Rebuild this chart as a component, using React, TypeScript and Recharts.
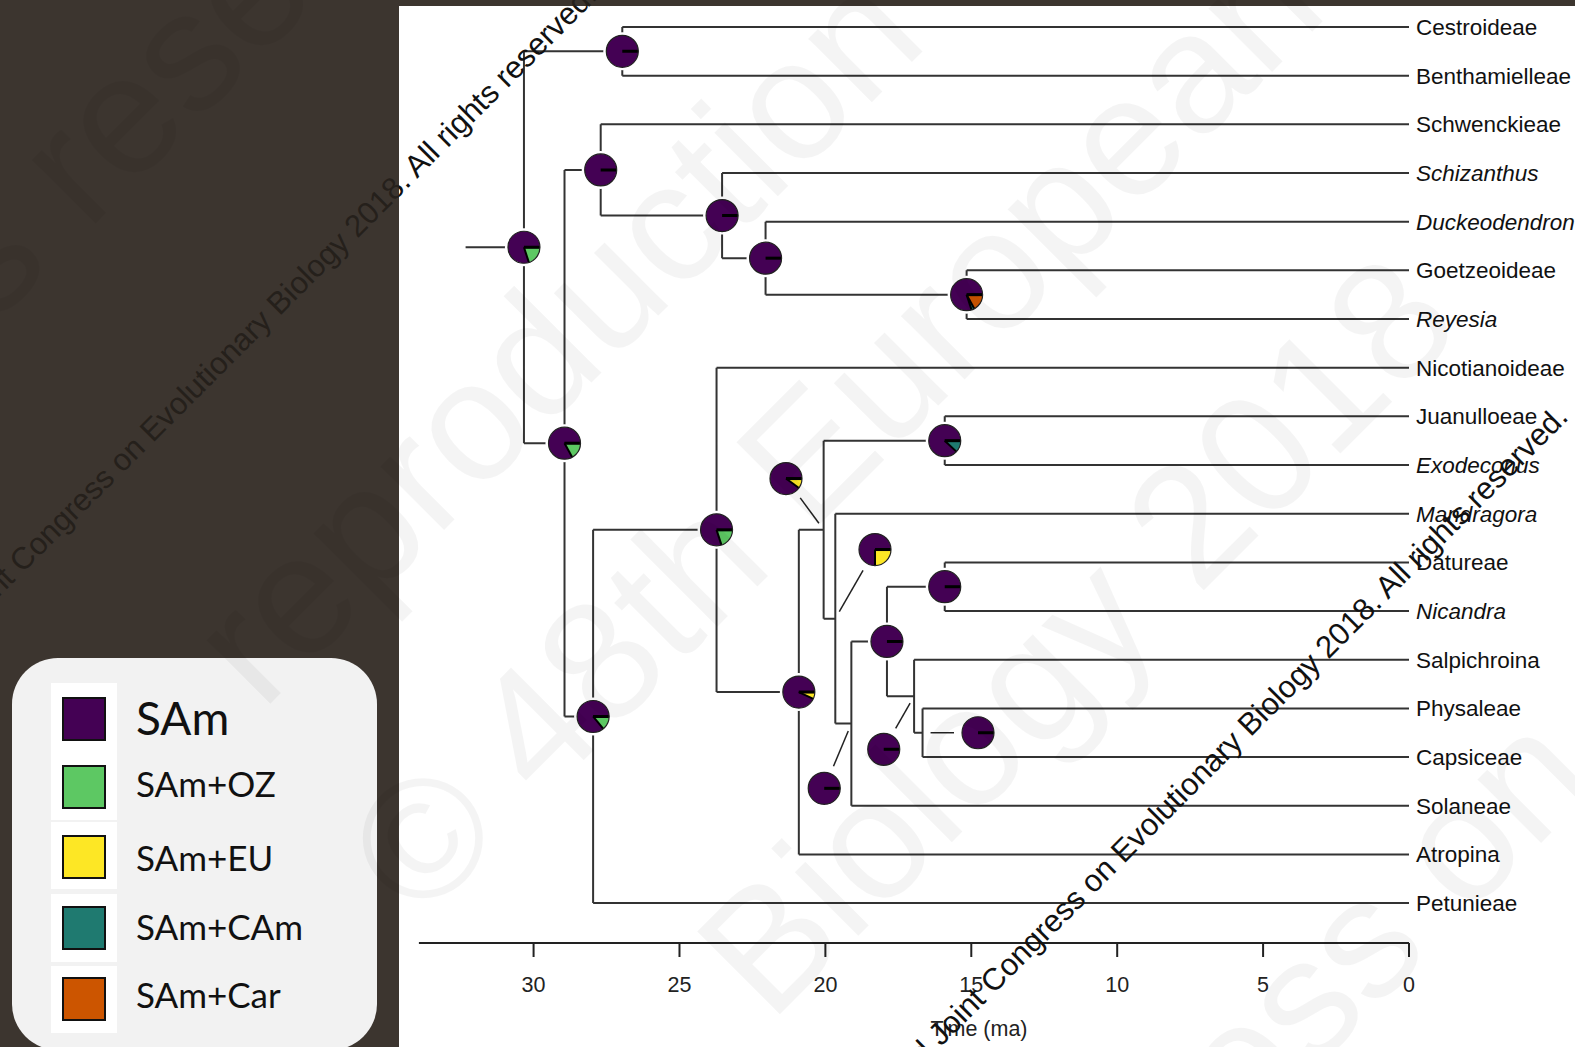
import React from 'react'
import { ComposedChart, Line, Scatter, XAxis, YAxis, ReferenceLine } from 'recharts'

// tips, top to bottom
const TIPS = [
  'Cestroideae', 'Benthamielleae', 'Schwenckieae', 'Schizanthus', 'Duckeodendron',
  'Goetzeoideae', 'Reyesia', 'Nicotianoideae', 'Juanulloeae', 'Exodeconus',
  'Mandragora', 'Datureae', 'Nicandra', 'Salpichroina', 'Physaleae',
  'Capsiceae', 'Solaneae', 'Atropina', 'Petunieae',
]
const ITALIC_TIPS = ['Schizanthus', 'Duckeodendron', 'Reyesia', 'Exodeconus', 'Mandragora', 'Nicandra']

// internal nodes (age in ma)
const NODES = ['root', 'n1', 'n2', 'n3', 'n4', 'n5', 'n6', 'n7', 'n8', 'n9', 'n10', 'n11', 'n12', 'n13', 'n14', 'n15', 'n16', 'n17']
const NODE_AGE = [30.33, 26.96, 28.94, 27.7, 23.54, 22.05, 15.16, 27.96, 23.73, 20.91, 20.06, 15.91, 19.66, 19.11, 17.89, 15.91, 16.96, 16.67]
const NODE_KIDS = [
  ['n1', 'n2'],
  ['Cestroideae', 'Benthamielleae'],
  ['n3', 'n7'],
  ['Schwenckieae', 'n4'],
  ['Schizanthus', 'n5'],
  ['Duckeodendron', 'n6'],
  ['Goetzeoideae', 'Reyesia'],
  ['n8', 'Petunieae'],
  ['Nicotianoideae', 'n9'],
  ['n10', 'Atropina'],
  ['n11', 'n12'],
  ['Juanulloeae', 'Exodeconus'],
  ['Mandragora', 'n13'],
  ['n14', 'Solaneae'],
  ['n15', 'n16'],
  ['Datureae', 'Nicandra'],
  ['Salpichroina', 'n17'],
  ['Physaleae', 'Capsiceae'],
]
const ROOT_EDGE_START = 32.33

// displaced pies (offset in ma / rows), drawn with a leader line
const PIE_SHIFT_AGE = [0, 0, 0, 0, 0, 0, 0, 0, 0, 0, 1.29, 0, -1.36, 0.93, 0, 0, 1.04, -1.9]
const PIE_SHIFT_ROW = [0, 0, 0, 0, 0, 0, 0, 0, 0, 0, -1.05, 0, -1.42, 1.33, 0, 0, 1.09, 0]

// ancestral state probabilities: SAm, SAm+OZ, SAm+EU, SAm+CAm, SAm+Car
const STATES = ['SAm', 'SAm+OZ', 'SAm+EU', 'SAm+CAm', 'SAm+Car']
const STATE_COLORS = ['#440154', '#5DC863', '#FDE725', '#1F7A70', '#CC5500']
const NODE_PROBS = [
  [0.8, 0.2, 0, 0, 0],
  [1, 0, 0, 0, 0],
  [0.83, 0.17, 0, 0, 0],
  [1, 0, 0, 0, 0],
  [1, 0, 0, 0, 0],
  [1, 0, 0, 0, 0],
  [0.8, 0, 0, 0.03, 0.17],
  [0.86, 0.14, 0, 0, 0],
  [0.8, 0.2, 0, 0, 0],
  [0.93, 0, 0.07, 0, 0],
  [0.9, 0, 0.1, 0, 0],
  [0.88, 0, 0, 0.12, 0],
  [0.75, 0, 0.25, 0, 0],
  [1, 0, 0, 0, 0],
  [1, 0, 0, 0, 0],
  [1, 0, 0, 0, 0],
  [1, 0, 0, 0, 0],
  [1, 0, 0, 0, 0],
]

const AGE_TICKS = [0, 5, 10, 15, 20, 25, 30]

const ARIAL = '"Liberation Sans", Arial, sans-serif'
const CALIBRI = 'Lato, "Open Sans", sans-serif'

const rowOf = (name: string): number => {
  const i = NODES.indexOf(name)
  if (i < 0) return TIPS.indexOf(name)
  const rows = NODE_KIDS[i].map(rowOf)
  return (rows[0] + rows[rows.length - 1]) / 2
}
const ageOf = (name: string) => {
  const i = NODES.indexOf(name)
  return i < 0 ? 0 : NODE_AGE[i]
}

// tree edges as one broken polyline
const edges: { x: number; y: number | null }[] = []
const rootRow = rowOf('root')
edges.push({ x: ROOT_EDGE_START, y: rootRow }, { x: NODE_AGE[0], y: rootRow }, { x: NODE_AGE[0], y: null })
NODES.forEach((n, i) => {
  const age = NODE_AGE[i]
  const rows = NODE_KIDS[i].map(rowOf)
  edges.push({ x: age, y: Math.min(...rows) }, { x: age, y: Math.max(...rows) }, { x: age, y: null })
  NODE_KIDS[i].forEach((k) => {
    const r = rowOf(k)
    edges.push({ x: age, y: r }, { x: ageOf(k), y: r }, { x: ageOf(k), y: null })
  })
})

const pies = NODES.map((n, i) => ({
  x: NODE_AGE[i] + PIE_SHIFT_AGE[i],
  y: rowOf(n) + PIE_SHIFT_ROW[i],
  probs: NODE_PROBS[i],
}))

const leaders = NODES.map((n, i) => ({ i, n })).filter(({ i }) => PIE_SHIFT_AGE[i] !== 0 || PIE_SHIFT_ROW[i] !== 0)

const PieGlyph = (props: any) => {
  const { cx, cy, payload } = props
  if (cx == null || cy == null) return null
  const r = 16
  const probs: number[] = payload.probs
  const pt = (a: number) => [cx + r * Math.cos(a), cy - r * Math.sin(a)]
  let a0 = 0
  const slices: React.ReactNode[] = []
  const borders: number[] = [0]
  probs.forEach((p, k) => {
    if (p <= 0) return
    if (p >= 1) {
      slices.push(<circle key={k} cx={cx} cy={cy} r={r} fill={STATE_COLORS[k]} />)
      return
    }
    const a1 = a0 + p * Math.PI * 2
    const [x0, y0] = pt(a0)
    const [x1, y1] = pt(a1)
    const large = p > 0.5 ? 1 : 0
    slices.push(
      <path key={k} d={`M${cx},${cy} L${x0},${y0} A${r},${r} 0 ${large} 0 ${x1},${y1} Z`} fill={STATE_COLORS[k]} />
    )
    a0 = a1
    borders.push(a1)
  })
  return (
    <g>
      <circle cx={cx} cy={cy} r={r + 3} fill="#fff" />
      {slices}
      {borders.map((a, k) => {
        const [x, y] = pt(a)
        return <line key={'b' + k} x1={cx} y1={cy} x2={x} y2={y} stroke="#000" strokeWidth={k === 0 ? 3 : 2} />
      })}
      <circle cx={cx} cy={cy} r={r} fill="none" stroke="#222" strokeWidth={1.2} />
    </g>
  )
}

const LeaderShape = (props: any) => {
  const { x1, y1, x2, y2 } = props
  const dx = x2 - x1
  const dy = y2 - y1
  const len = Math.hypot(dx, dy) || 1
  const s = 24 / len
  const e = (len - 8) / len
  return <line x1={x1 + dx * s} y1={y1 + dy * s} x2={x1 + dx * e} y2={y1 + dy * e} stroke="#222" strokeWidth={1.5} />
}

const TipTick = (props: any) => {
  const { x, y, payload } = props
  const name = TIPS[payload.value]
  if (!name) return null
  return (
    <text x={x} y={y} dy="0.355em" textAnchor="start" fontSize={22.5} fontFamily={ARIAL} fill="#111"
      fontStyle={ITALIC_TIPS.includes(name) ? 'italic' : 'normal'}>
      {name}
    </text>
  )
}

const LEGEND_PATCHES = [[683, 137], [822, 67], [894, 68], [966, 67]]
const LEGEND_SWATCH_Y = [698, 766, 836, 907, 978]
const LEGEND_BASELINE = [735, 797, 871, 940, 1008]

const STAMP = '© 2nd Joint Congress on Evolutionary Biology 2018. All rights reserved.'

export default function App() {
  return (
    <div style={{ position: 'absolute', left: 0, top: 0, width: 1575, height: 1047, background: '#3c352f', overflow: 'hidden' }}>
      <div style={{ position: 'absolute', left: 399, top: 6, right: 0, bottom: 0, background: '#fff' }} />
      <div style={{ position: 'absolute', left: 0, top: 0 }}>
        <ComposedChart width={1575} height={1047} margin={{ top: 7.5, right: 0, bottom: 4, left: 418.9 }}>
          <XAxis
            dataKey="x"
            type="number"
            domain={[0, 33.93]}
            allowDataOverflow
            reversed
            ticks={AGE_TICKS}
            height={100}
            tickSize={14}
            tickMargin={20}
            stroke="#222"
            axisLine={{ strokeWidth: 2 }}
            tickLine={{ strokeWidth: 2 }}
            tick={{ fontSize: 21.5, fill: '#222', fontFamily: ARIAL }}
            label={{ value: 'Time (ma)', position: 'insideBottom', offset: 7, dx: 65, fontSize: 21.5, fill: '#222', fontFamily: ARIAL }}
          />
          <YAxis
            dataKey="y"
            type="number"
            orientation="right"
            domain={[-0.4, 18.82]}
            allowDataOverflow
            reversed
            ticks={TIPS.map((_, i) => i)}
            interval={0}
            width={166}
            axisLine={false}
            tickLine={false}
            tickSize={0}
            tickMargin={7}
            tick={<TipTick />}
          />
          <Line data={edges} dataKey="y" type="linear" stroke="#333" strokeWidth={2} dot={false} activeDot={false}
            connectNulls={false} isAnimationActive={false} />
          {leaders.map(({ i, n }) => (
            <ReferenceLine key={n} ifOverflow="visible"
              segment={[{ x: pies[i].x, y: pies[i].y }, { x: NODE_AGE[i], y: rowOf(n) }]}
              shape={LeaderShape} />
          ))}
          <Scatter data={pies} shape={PieGlyph} isAnimationActive={false} />
        </ComposedChart>
      </div>

      {/* legend */}
      <div style={{ position: 'absolute', left: 12, top: 658, width: 365, height: 392, background: '#f2f2f2', borderRadius: 46 }} />
      <svg width={1575} height={1047} style={{ position: 'absolute', left: 0, top: 0 }}>
        {LEGEND_PATCHES.map(([y, h], k) => (
          <rect key={k} x={51} y={y} width={66} height={h} fill="#fff" />
        ))}
        {STATES.map((s, k) => (
          <g key={s}>
            <rect x={63} y={LEGEND_SWATCH_Y[k]} width={42} height={42} fill={STATE_COLORS[k]} stroke="#111" strokeWidth={2} />
            <text x={136} y={LEGEND_BASELINE[k]} fontSize={k === 0 ? 46 : 35} fontFamily={CALIBRI} fill="#111">{s}</text>
          </g>
        ))}
      </svg>

      {/* watermarks */}
      <svg width={1575} height={1047} style={{ position: 'absolute', left: 0, top: 0, pointerEvents: 'none' }}>
        <defs>
          <clipPath id="lightArea"><rect x={399} y={6} width={1176} height={1041} /></clipPath>
          <clipPath id="darkArea">
            <rect x={0} y={0} width={399} height={1047} />
            <rect x={0} y={0} width={1575} height={6} />
          </clipPath>
        </defs>
        <g fill="rgba(0,0,0,0.042)" fontFamily={ARIAL} fontSize={170}>
          <text transform="translate(-407,726) rotate(-45)">All rights reserved</text>
          <text transform="translate(262,712) rotate(-45)">reproduction</text>
          <text transform="translate(420,924) rotate(-45)">© 48th European</text>
          <text transform="translate(770,1024) rotate(-45)">Biology 2018</text>
          <text transform="translate(918,1466) rotate(-45)">Congress on</text>
        </g>
        {[['lightArea', '#111'], ['darkArea', '#25201b']].map(([clip, color]) => (
          <g key={clip} clipPath={`url(#${clip})`} fill={color} fontFamily={ARIAL} fontSize={31}>
            <text transform="translate(-95,691) rotate(-45)">{STAMP}</text>
            <text transform="translate(876,1112) rotate(-45)">{STAMP}</text>
          </g>
        ))}
      </svg>
    </div>
  )
}
